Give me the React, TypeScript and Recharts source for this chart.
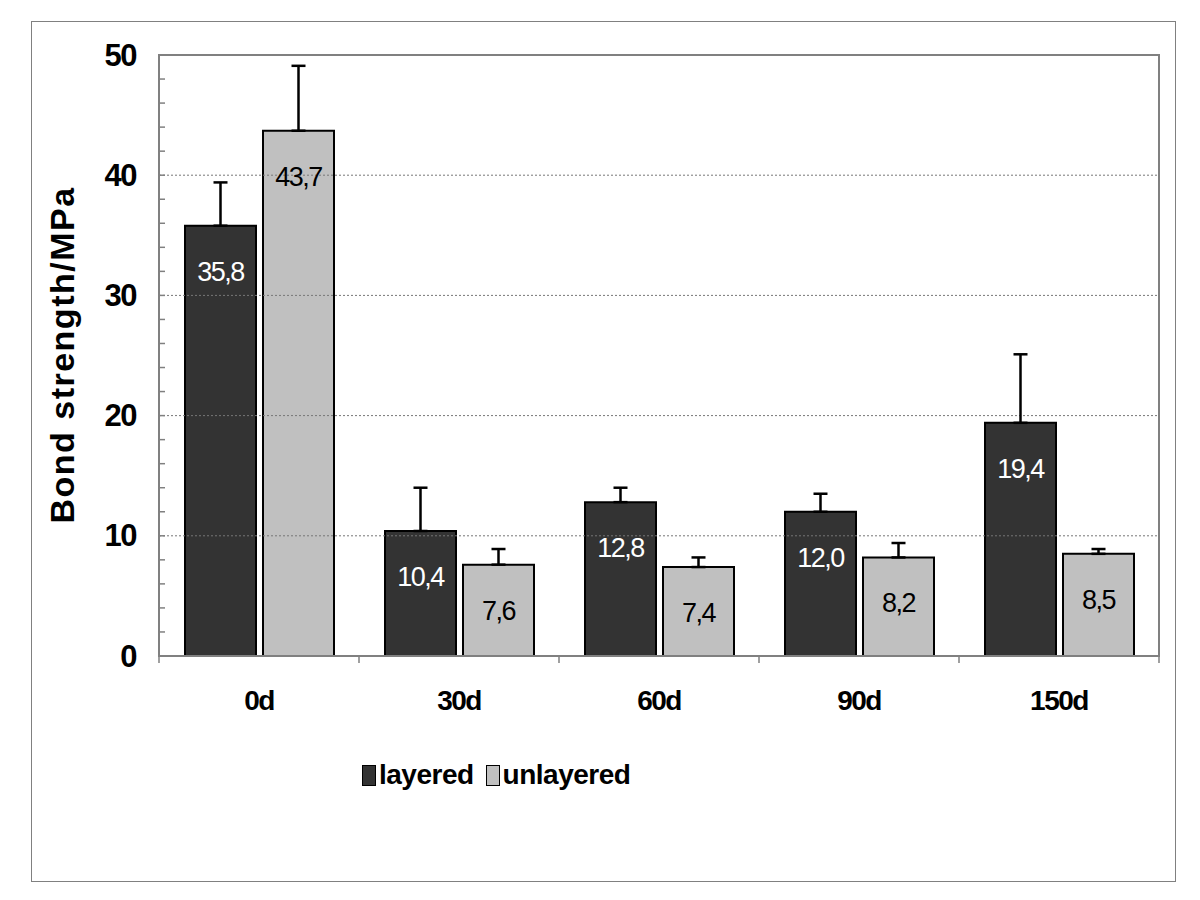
import { BarChart, Bar, XAxis, YAxis, ErrorBar, LabelList, ReferenceLine, ReferenceArea } from 'recharts';

const categories = ['0d', '30d', '60d', '90d', '150d'];
const layered = [35.8, 10.4, 12.8, 12.0, 19.4];
const unlayered = [43.7, 7.6, 7.4, 8.2, 8.5];
const layeredErr = [3.6, 3.6, 1.2, 1.5, 5.7];
const unlayeredErr = [5.4, 1.3, 0.8, 1.2, 0.4];
const yTicks = [0, 2, 4, 6, 8, 10, 12, 14, 16, 18, 20, 22, 24, 26, 28, 30, 32, 34, 36, 38, 40, 42, 44, 46, 48, 50];
const gridValues = [10, 20, 30, 40];

const data = categories.map((c, i) => ({
  name: c,
  layered: layered[i],
  unlayered: unlayered[i],
  layeredErr: [0, layeredErr[i]],
  unlayeredErr: [0, unlayeredErr[i]],
}));

const FONT = '"Liberation Sans", Arial, sans-serif';
const DARK = '#333333';
const LIGHT = '#c0c0c0';
const GRAY = '#808080';

const fmt = (v: number) => v.toFixed(1).replace('.', ',');

const YTick = (props: any) => {
  const { x, y, payload } = props;
  const major = payload.value % 10 === 0;
  return (
    <g>
      <line x1={x} y1={y} x2={x + 6} y2={y} stroke={GRAY} strokeWidth={1.5} />
      {major && (
        <text x={x - 23} y={y} textAnchor="end" dominantBaseline="central" fontFamily={FONT}
          fontWeight="bold" fontSize={31} letterSpacing={-1.5} fill="#000">
          {payload.value}
        </text>
      )}
    </g>
  );
};

const XTick = (props: any) => {
  const { x, y, payload, index } = props;
  return (
    <g>
      <line x1={x - 100} y1={y} x2={x - 100} y2={y + 7} stroke={GRAY} strokeWidth={1.5} />
      {index === categories.length - 1 && (
        <line x1={x + 100} y1={y} x2={x + 100} y2={y + 7} stroke={GRAY} strokeWidth={1.5} />
      )}
      <text x={x} y={y + 44} textAnchor="middle" dominantBaseline="central" fontFamily={FONT}
        fontWeight="bold" fontSize={28} letterSpacing={-1.5} fill="#000">
        {payload.value}
      </text>
    </g>
  );
};

const makeLabel = (color: string) => (props: any) => {
  const { x, y, width, value } = props;
  return (
    <text x={x + width / 2} y={y + 46} textAnchor="middle" dominantBaseline="central"
      fontFamily={FONT} fontSize={27} letterSpacing={-1.5} fill={color}>
      {fmt(value)}
    </text>
  );
};

const LegendBox = () => (
  <div style={{ display: 'flex', alignItems: 'center', fontFamily: FONT, fontWeight: 'bold', fontSize: 28, letterSpacing: -0.5, color: '#000' }}>
    <span style={{ width: 12, height: 19, background: DARK, border: '1.5px solid #000', display: 'inline-block', marginRight: 3 }} />
    <span style={{ marginRight: 12 }}>layered</span>
    <span style={{ width: 12, height: 19, background: LIGHT, border: '1.5px solid #000', display: 'inline-block', marginRight: 3 }} />
    <span>unlayered</span>
  </div>
);

export default function App() {
  return (
    <div style={{ position: 'absolute', left: 0, top: 0, width: 1200, height: 900, background: '#fff' }}>
      <div style={{ position: 'absolute', left: 31, top: 21, width: 1143, height: 859, border: `1.5px solid ${GRAY}` }} />
      <div style={{
        position: 'absolute', left: 62, top: 355, transform: 'translate(-50%, -50%) rotate(-90deg)',
        whiteSpace: 'nowrap', fontFamily: FONT, fontWeight: 'bold', fontSize: 34, letterSpacing: 1.5, color: '#000',
      }}>
        Bond strength/MPa
      </div>
      <div style={{ position: 'absolute', left: 0, top: 0 }}>
        <BarChart width={1200} height={900} data={data}
          margin={{ top: 55, right: 41, left: 59, bottom: 204 }}
          barCategoryGap={26} barGap={7}>
          <ReferenceArea y1={0} y2={50} fill="none" stroke={GRAY} strokeWidth={2} ifOverflow="visible" />
          {gridValues.map((v) => (
            <ReferenceLine key={v} y={v} stroke="#777" strokeDasharray="2 2" strokeWidth={1} />
          ))}
          <XAxis dataKey="name" height={40} tickLine={false} tickSize={0} tickMargin={0}
            axisLine={{ stroke: GRAY, strokeWidth: 2 }} tick={<XTick />} interval={0} />
          <YAxis domain={[0, 50]} ticks={yTicks} width={100} tickLine={false} tickSize={0} tickMargin={0}
            axisLine={{ stroke: GRAY, strokeWidth: 2 }} tick={<YTick />} interval={0} allowDataOverflow />
          <Bar dataKey="layered" fill={DARK} stroke="#000" strokeWidth={2} isAnimationActive={false}>
            <ErrorBar dataKey="layeredErr" width={7} stroke="#000" strokeWidth={2.5} direction="y" />
            <LabelList dataKey="layered" content={makeLabel('#fff')} />
          </Bar>
          <Bar dataKey="unlayered" fill={LIGHT} stroke="#000" strokeWidth={2} isAnimationActive={false}>
            <ErrorBar dataKey="unlayeredErr" width={7} stroke="#000" strokeWidth={2.5} direction="y" />
            <LabelList dataKey="unlayered" content={makeLabel('#000')} />
          </Bar>
        </BarChart>
      </div>
      <div style={{ position: 'absolute', left: 362, top: 759 }}>
        <LegendBox />
      </div>
    </div>
  );
}
